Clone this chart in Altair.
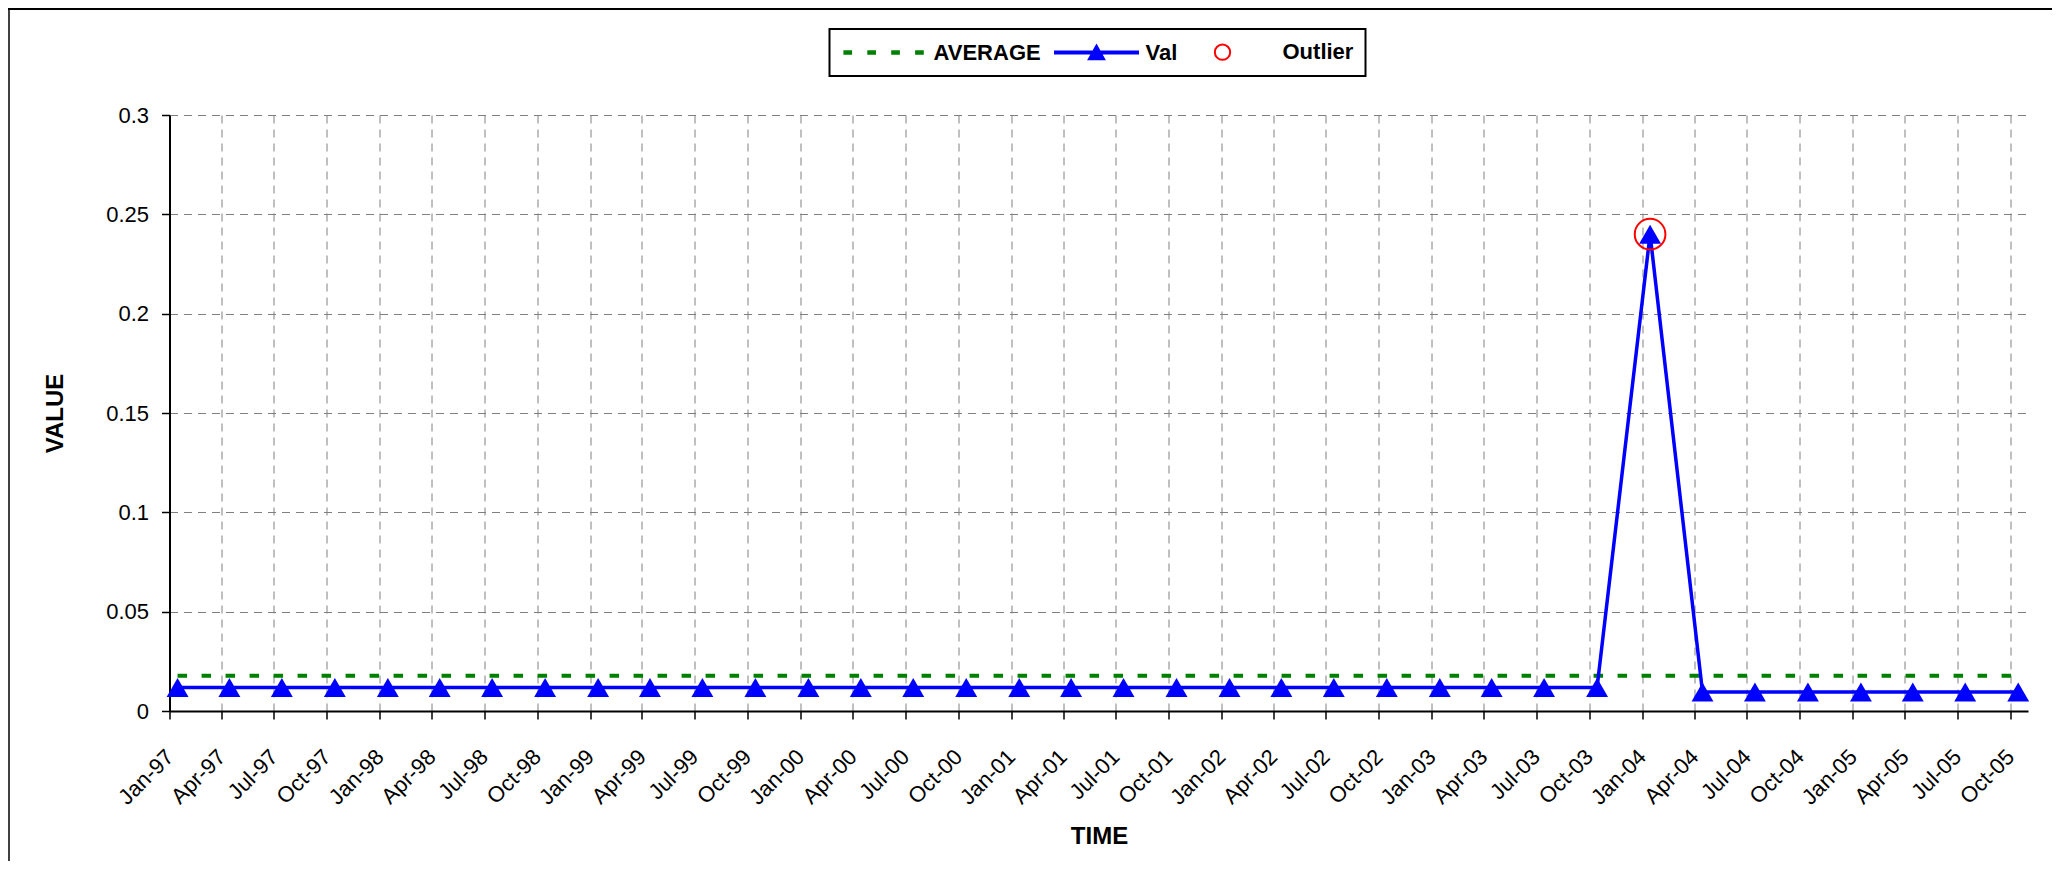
import altair as alt
import pandas as pd

FONT = "Liberation Sans"

# ---- data -----------------------------------------------------------------
dates = [
    "1997/01/15", "1997/04/15", "1997/07/15", "1997/10/15",
    "1998/01/15", "1998/04/15", "1998/07/15", "1998/10/15",
    "1999/01/15", "1999/04/15", "1999/07/15", "1999/10/15",
    "2000/01/15", "2000/04/15", "2000/07/15", "2000/10/15",
    "2001/01/15", "2001/04/15", "2001/07/15", "2001/10/15",
    "2002/01/15", "2002/04/15", "2002/07/15", "2002/10/15",
    "2003/01/15", "2003/04/15", "2003/07/15", "2003/10/15",
    "2004/01/15", "2004/04/15", "2004/07/15", "2004/10/15",
    "2005/01/15", "2005/04/15", "2005/07/15", "2005/10/15",
]
val = [
    0.0118, 0.0118, 0.0118, 0.0118,
    0.0118, 0.0118, 0.0118, 0.0118,
    0.0118, 0.0118, 0.0118, 0.0118,
    0.0118, 0.0118, 0.0118, 0.0118,
    0.0118, 0.0118, 0.0118, 0.0118,
    0.0118, 0.0118, 0.0118, 0.0118,
    0.0118, 0.0118, 0.0118, 0.0118,
    0.2400, 0.0096, 0.0096, 0.0096,
    0.0096, 0.0096, 0.0096, 0.0096,
]
avg_value = 0.0177
outlier_dates = ["2004/01/15"]
outlier_values = [0.24]

tick_dates = [
    "1997/01/01", "1997/04/01", "1997/07/01", "1997/10/01",
    "1998/01/01", "1998/04/01", "1998/07/01", "1998/10/01",
    "1999/01/01", "1999/04/01", "1999/07/01", "1999/10/01",
    "2000/01/01", "2000/04/01", "2000/07/01", "2000/10/01",
    "2001/01/01", "2001/04/01", "2001/07/01", "2001/10/01",
    "2002/01/01", "2002/04/01", "2002/07/01", "2002/10/01",
    "2003/01/01", "2003/04/01", "2003/07/01", "2003/10/01",
    "2004/01/01", "2004/04/01", "2004/07/01", "2004/10/01",
    "2005/01/01", "2005/04/01", "2005/07/01", "2005/10/01",
]
x_domain_dates = ["1997/01/01", "2005/11/01"]
y_ticks = [0, 0.05, 0.1, 0.15, 0.2, 0.25, 0.3]

series_names = ["AVERAGE", "Val", "Outlier"]
series_stroke = ["#008000", "#0000FF", "#FF0000"]
series_fill = ["#008000", "#0000FF", "transparent"]
legend_shapes = [
    # four dashes
    "M-4.3,0M4.3,0"
    "M-4.01,-0.115H-3.34V0.115H-4.01Z"
    "M-1.62,-0.115H-0.95V0.115H-1.62Z"
    "M0.77,-0.115H1.44V0.115H0.77Z"
    "M3.16,-0.115H3.83V0.115H3.16Z",
    # line with triangle
    "M-4.15,-0.1H4.15V0.1H-4.15Z"
    "M0,-0.7L0.77,0.67L-0.77,0.67Z",
    # ring
    "M-4.3,0M4.3,0"
    "M-0.335,0A0.765,0.765,0,1,1,-1.865,0A0.765,0.765,0,1,1,-0.335,0Z",
]


def to_dt(s):
    y, m, d = (int(p) for p in s.split("/"))
    return alt.DateTime(year=y, month=m, date=d)


val_df = pd.DataFrame({"date": dates, "value": val})
avg_df = pd.DataFrame({"date": [dates[0], dates[-1]], "value": [avg_value, avg_value]})
out_df = pd.DataFrame({"date": outlier_dates, "value": outlier_values})
leg_df = pd.DataFrame({"series": series_names})

# ---- axes -------------------------------------------------------------------
common_axis = dict(
    domainColor="black", domainWidth=2,
    tickColor="black", tickWidth=1.5, tickSize=8,
    grid=True, gridColor="#808080", gridDash=[8, 6], gridWidth=1,
    labelFont=FONT, labelFontSize=22, labelColor="black",
    labelFlush=False,
    titleFont=FONT, titleFontSize=24, titleFontWeight="bold", titleColor="black",
)
x_axis = alt.Axis(
    values=[to_dt(t) for t in tick_dates], format="%b-%y",
    labelAngle=-45, labelAlign="right", labelBaseline="middle",
    labelPadding=34, labelOverlap=False,
    titleX=929.5, titleY=125, titleAlign="center", titleBaseline="middle",
    **common_axis,
)
y_axis = alt.Axis(
    values=y_ticks, format="~g", labelPadding=13,
    titleX=-114.5, titleY=298, titleAlign="center", titleBaseline="middle",
    **common_axis,
)

x_enc = alt.X("date:T", title="TIME", axis=x_axis,
              scale=alt.Scale(domain=[to_dt(d) for d in x_domain_dates], nice=False))
y_enc = alt.Y("value:Q", title="VALUE", axis=y_axis,
              scale=alt.Scale(domain=[0, 0.3], nice=False))

# ---- layers -----------------------------------------------------------------
avg_line = alt.Chart(avg_df).mark_line(
    color="#008000", strokeWidth=4, strokeDash=[9.5, 14.5]
).encode(x=x_enc, y=y_enc)

val_line = alt.Chart(val_df).mark_line(color="#0000FF", strokeWidth=3.5).encode(x=x_enc, y=y_enc)

val_pts = alt.Chart(val_df).mark_point(
    shape="triangle-up", size=480, filled=True, color="#0000FF", opacity=1
).encode(x=x_enc, y=y_enc)

outlier = alt.Chart(out_df).mark_point(
    shape="circle", size=940, filled=False, color="#FF0000", strokeWidth=2, opacity=1
).encode(x=x_enc, y=y_enc)

leg = alt.Legend(
    title=None, orient="none", legendX=660, legendY=-86, direction="horizontal",
    columns=3, symbolSize=400, symbolStrokeWidth=2, symbolOpacity=1,
    symbolOffset=32, labelOffset=38, columnPadding=9, padding=12,
    strokeColor="black", fillColor="white",
    labelFont=FONT, labelFontSize=22, labelFontWeight="bold", labelColor="black",
)
legend_layer = alt.Chart(leg_df).mark_point(filled=True, opacity=0).encode(
    stroke=alt.Stroke("series:N", scale=alt.Scale(domain=series_names, range=series_stroke), legend=leg),
    fill=alt.Fill("series:N", scale=alt.Scale(domain=series_names, range=series_fill), legend=leg),
    shape=alt.Shape("series:N", scale=alt.Scale(domain=series_names, range=legend_shapes), legend=leg),
)

frame_df = pd.DataFrame({"k": [0]})
frame_top = alt.Chart(frame_df).mark_rule(color="black", strokeWidth=2).encode(
    x=alt.value(-161.5), x2=alt.value(1882.5), y=alt.value(-106)
)
frame_left = alt.Chart(frame_df).mark_rule(color="black", strokeWidth=1.5).encode(
    x=alt.value(-160.5), y=alt.value(-107), y2=alt.value(746)
)

chart = alt.layer(
    frame_top, frame_left, avg_line, val_line, val_pts, outlier, legend_layer
).properties(
    width=1858.5, height=596,
    padding={"left": 161.5, "top": 107, "right": 24, "bottom": 150},
    autosize=alt.AutoSizeParams(type="none"),
    background="white",
).configure_view(strokeWidth=0).configure_legend(strokeWidth=2)

chart.save("out.html", embed_options={"renderer": "svg", "actions": False})
